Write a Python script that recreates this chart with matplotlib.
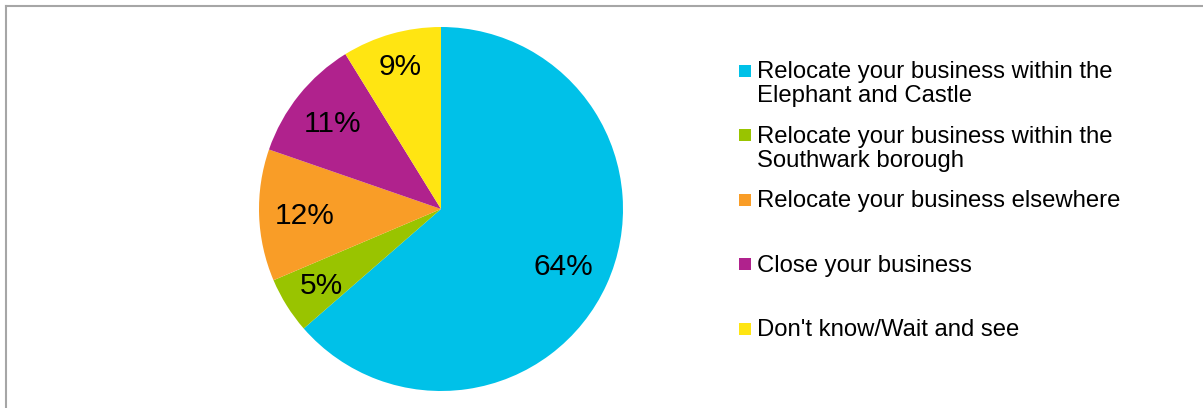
import matplotlib
matplotlib.use("Agg")
import numpy as np
import matplotlib.pyplot as plt
from matplotlib.patches import Rectangle
from matplotlib.lines import Line2D

plt.rcParams['font.family'] = ['Liberation Sans', 'DejaVu Sans']

# data
categories = ["Relocate your business within the\nElephant and Castle",
              "Relocate your business within the\nSouthwark borough",
              "Relocate your business elsewhere",
              "Close your business",
              "Don't know/Wait and see"]
shares = [63.6, 5.0, 11.7, 10.9, 8.8]
colors = ["#00C1E8", "#99C400", "#F99D27", "#B0228D", "#FFE512"]
label_dist = [0.74, 0.775, 0.75, 0.765, 0.825]

W, H = 1203, 408
fig = plt.figure(figsize=(W / 100, H / 100), dpi=100)

# pie centred at (441, 209) px, radius ~182 px
cx, cy, r = 441, 209, 182
ax = fig.add_axes([(cx - r) / W, (H - cy - r) / H, 2 * r / W, 2 * r / H])
wedges, txts, autotxts = ax.pie(shares, colors=colors, startangle=90, counterclock=False,
                                autopct='%.0f%%',
                                textprops={'fontsize': 21.5, 'color': 'black'},
                                wedgeprops={'linewidth': 0})
# move pct labels a bit like excel's best fit
for w, t, d in zip(wedges, autotxts, label_dist):
    ang = np.deg2rad((w.theta1 + w.theta2) / 2)
    t.set_position((d * np.cos(ang), d * np.sin(ang) - 0.012))
ax.set_xlim(-1, 1)
ax.set_ylim(-1, 1)
ax.axis('off')

# legend drawn by hand (excel style spacing), one text per line
fs = 17.2
lh = 24.3
for i, (lab, col) in enumerate(zip(categories, colors)):
    ymid = 70.5 + 64.6 * i
    fig.add_artist(Rectangle((739 / W, 1 - (ymid + 6) / H), 12 / W, 12 / H,
                             transform=fig.transFigure, color=col, lw=0))
    for k, line in enumerate(lab.split("\n")):
        fig.text(757 / W, 1 - (ymid + 7.5 + k * lh) / H, line, fontsize=fs,
                 va='baseline', ha='left')

# outer border
fig.add_artist(Line2D([6 / W, 6 / W], [0, 1 - 6 / H], transform=fig.transFigure,
                      color='#a6a6a6', lw=1.5))
fig.add_artist(Line2D([6 / W, 1], [1 - 6 / H, 1 - 6 / H], transform=fig.transFigure,
                      color='#a6a6a6', lw=1.5))

fig.savefig("out.png", dpi=100)
